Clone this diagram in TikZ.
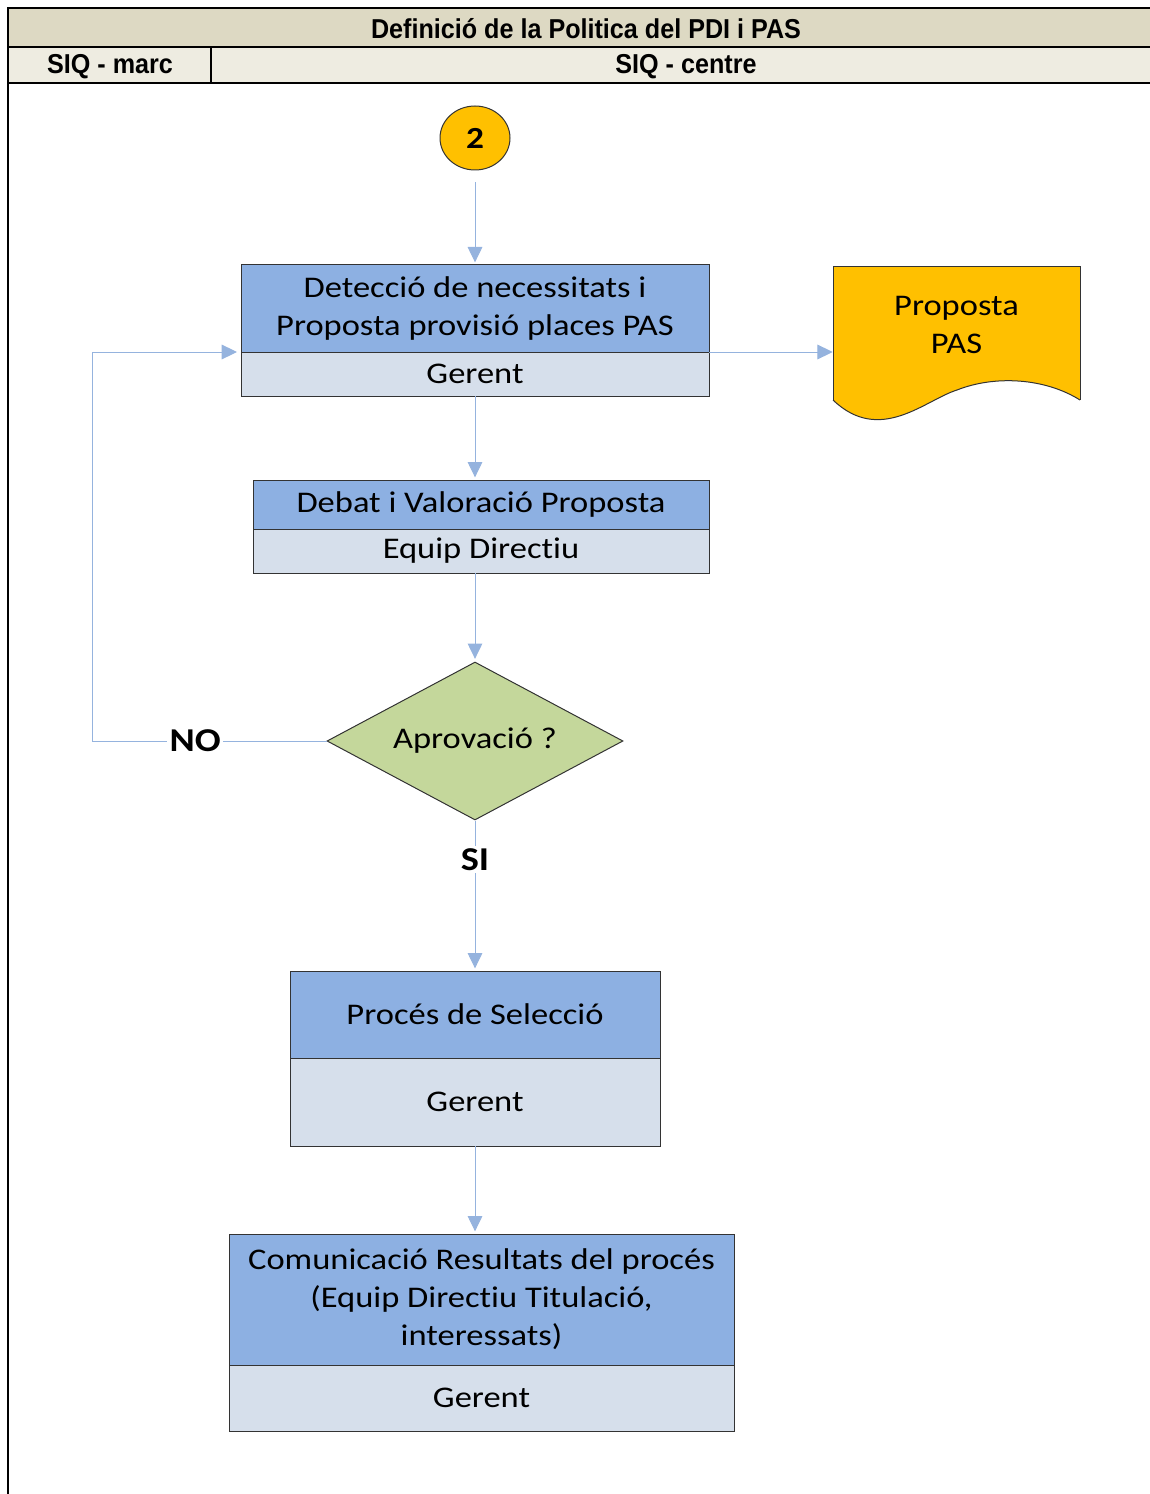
\documentclass[tikz,border=0pt]{standalone}
\usepackage{fontspec}
\setmainfont{Carlito}[FakeStretch=1.15,Ligatures={NoCommon,NoContextual},Contextuals=NoAlternate]
\newfontfamily\headfont{Liberation Sans}[FakeStretch=0.92]
\usetikzlibrary{arrows.meta,positioning,shapes.geometric}

\definecolor{hdrtan}{RGB}{221,217,195}
\definecolor{hdrlight}{RGB}{238,236,225}
\definecolor{taskblue}{RGB}{141,176,226}
\definecolor{roleblue}{RGB}{214,223,235}
\definecolor{docyellow}{RGB}{255,192,0}
\definecolor{decgreen}{RGB}{196,215,155}
\definecolor{flowblue}{RGB}{149,179,222}

\begin{document}
\begin{tikzpicture}[
  x=0.75pt,y=-0.75pt,
  >={Triangle[width=11pt,length=11.5pt]},
  font=\fontsize{22.5}{28.5}\selectfont,
  taskbox/.style={draw=black!80, line width=0.75pt, fill=taskblue, align=center, inner sep=0pt, outer sep=0pt},
  rolebox/.style={draw=black!80, line width=0.75pt, fill=roleblue, align=center, inner sep=0pt, outer sep=0pt},
  flow/.style={draw=flowblue, line width=0.75pt},
  answer/.style={fill=white, inner sep=2pt, font=\fontsize{25}{30}\selectfont\bfseries},
  hdrtext/.style={font=\headfont\bfseries\fontsize{20.5}{24}\selectfont},
]
\useasboundingbox (0,0) rectangle (1149,1494);

% --- header rows
\draw[line width=1.2pt, fill=hdrtan] (8,8) rectangle (1152,47);
\draw[line width=1.2pt, fill=hdrlight] (8,47) rectangle (1152,83);
\draw[line width=1pt] (211,47) -- (211,83);
\draw[line width=1.5pt] (8,8) -- (8,1494);
\node[hdrtext] (title) at (586,29) {Definició de la Politica del PDI i PAS};
\node[hdrtext] (marc) at (110,67) {SIQ - marc};
\node[hdrtext] (centre) at (686,67) {SIQ - centre};

% --- start connector
\node[ellipse, draw=black!80, line width=0.75pt, fill=docyellow, minimum width=52.5pt, minimum height=48pt, inner sep=0pt,
  font=\fontsize{23}{26}\selectfont\bfseries] (start) at (475,138) {2};

% --- tasks
\node[taskbox, minimum width=351pt, minimum height=65.25pt] (detec) at (475,308.5)
  {Detecció de necessitats i\\Proposta provisió places PAS};
\node[rolebox, minimum width=351pt, minimum height=33pt, below=0pt of detec] (detecrole) {Gerent};

\node[taskbox, minimum width=342pt, minimum height=36.75pt] (debat) at (481,504.5)
  {Debat i Valoració Proposta};
\node[rolebox, minimum width=342pt, minimum height=33pt, below=0pt of debat] (debatrole) {Equip Directiu};

\node[diamond, aspect=1.87, draw=black!80, line width=0.75pt, fill=decgreen, minimum width=222pt, minimum height=118.5pt,
  inner sep=0pt] (aprov) at (475,741) {Aprovació ?};

\node[taskbox, minimum width=277.5pt, minimum height=65.25pt] (proc) at (475,1014.5)
  {Procés de Selecció};
\node[rolebox, minimum width=277.5pt, minimum height=66pt, below=0pt of proc] (procrole) {Gerent};

\node[taskbox, minimum width=378.75pt, minimum height=98.25pt] (comun) at (481.5,1299.5)
  {Comunicació Resultats del procés\\(Equip Directiu Titulació,\\interessats)};
\node[rolebox, minimum width=378.75pt, minimum height=49.5pt, below=0pt of comun] (comunrole) {Gerent};

% --- output document
\fill[docyellow] (833,267) -- (1080,267) -- (1080,400)
  .. controls (1045,378) and (995,375) .. (957,390)
  .. controls (925,400) and (880,445) .. (833,400) -- cycle;
\draw[black!80, line width=0.75pt] (833,400) -- (833,267) -- (1080,267) -- (1080,400);
\draw[black!80, line width=0.75pt] (1080,400)
  .. controls (1045,378) and (995,375) .. (957,390)
  .. controls (925,400) and (880,445) .. (833,400);
\node[minimum width=185.25pt, inner sep=0pt, align=center] (doc) at (956.5,325) {Proposta\\PAS};

% --- connectors
\coordinate (loopcorner) at (92,741);
\draw[flow,->,shorten <=9pt,shorten >=2pt] (start) -- (detec);
\draw[flow,->] (detec.south east) -- (detec.south east -| doc.west);
\draw[flow,->,shorten >=2pt] (detecrole.south) -- (detecrole.south |- debat.north);
\draw[flow,->,shorten >=2pt] (aprov.north |- debatrole.south) -- (aprov.north);
\draw[flow,->] (aprov.west) -- node[answer, pos=0.56] {NO} (loopcorner) |- ([xshift=-3pt]detec.south west);
\draw[flow,->,shorten >=2pt] (aprov.south) -- node[answer, pos=0.26] {SI} (proc);
\draw[flow,->,shorten >=2pt] (procrole.south) -- (procrole.south |- comun.north);

\end{tikzpicture}
\end{document}
